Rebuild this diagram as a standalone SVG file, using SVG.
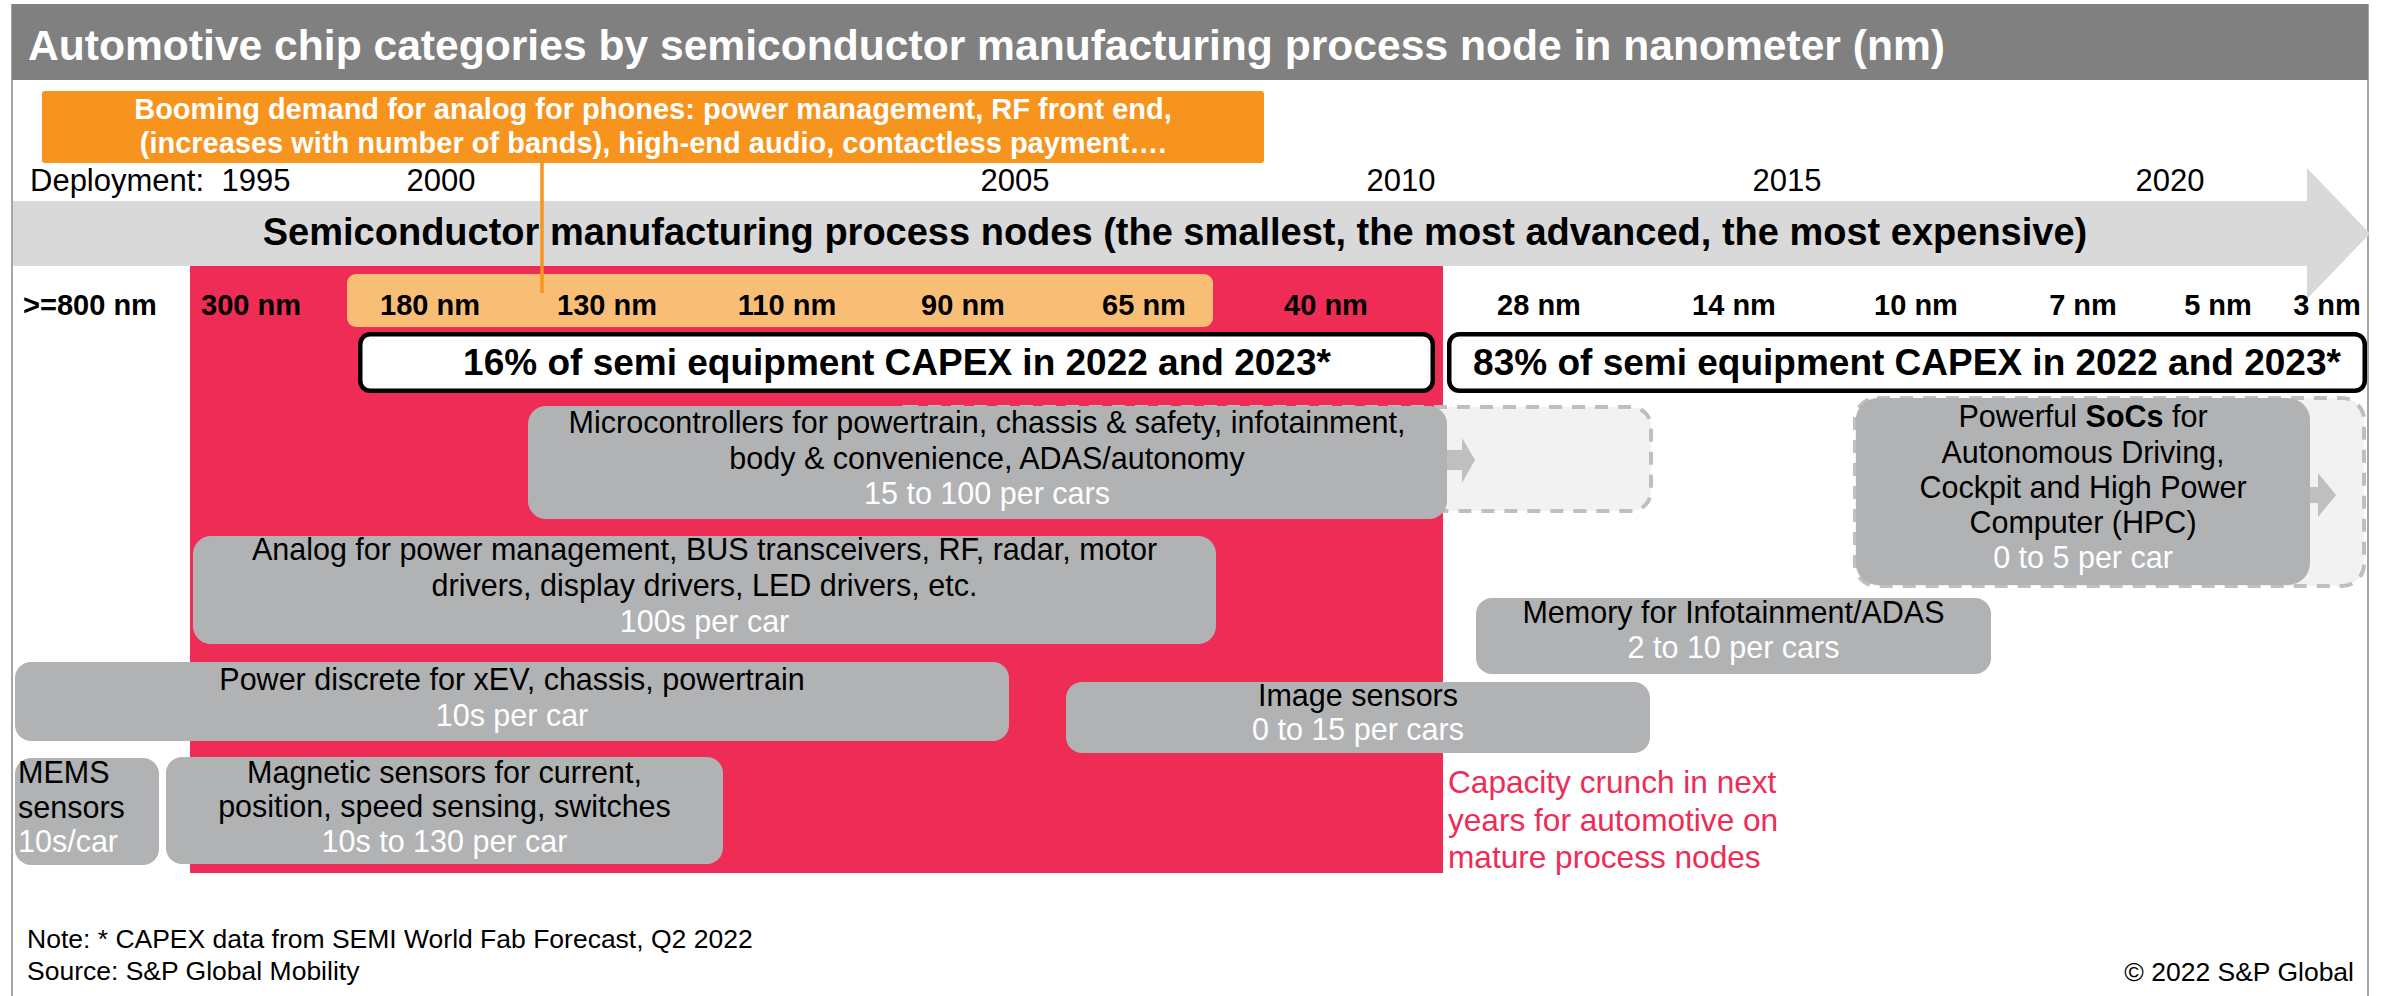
<svg xmlns="http://www.w3.org/2000/svg" width="2381" height="996" viewBox="0 0 2381 996">
<style>
text { font-family: "Liberation Sans", Arial, sans-serif; }
.title { font-size: 42.6px; font-weight: bold; fill: #ffffff; }
.orng { font-size: 29px; font-weight: bold; fill: #ffffff; text-anchor: middle; }
.yr { font-size: 31px; fill: #000000; text-anchor: middle; }
.arrowt { font-size: 38px; font-weight: bold; fill: #000000; text-anchor: middle; }
.nm { font-size: 29px; font-weight: bold; fill: #000000; text-anchor: middle; }
.capex { font-size: 37px; font-weight: bold; fill: #000000; text-anchor: middle; }
.capbox { fill: #ffffff; stroke: #000000; stroke-width: 4.5; }
.box { fill: #B1B2B4; }
.bt { font-size: 30.5px; fill: #000000; text-anchor: middle; }
.bw { font-size: 30.5px; fill: #ffffff; text-anchor: middle; }
.bl { font-size: 30.5px; fill: #000000; }
.blw { font-size: 30.5px; fill: #ffffff; }
.dash { fill: #F2F2F2; stroke: #BFBFBF; stroke-width: 4; stroke-dasharray: 13 10; }
.sarrow { fill: #BFBFBF; }
.redt { font-size: 31.6px; fill: #EE2C55; }
.note { font-size: 26.5px; fill: #000000; }
.frame { stroke: #A6A6A6; stroke-width: 2; fill: none; }
</style>
<rect x="0" y="0" width="2381" height="996" fill="#ffffff"/>
<g id="frame">
<line class="frame" x1="12" y1="4" x2="12" y2="996"/>
<line class="frame" x1="2368" y1="4" x2="2368" y2="996"/>
</g>
<g id="title">
<rect x="12" y="4" width="2356" height="76" fill="#808080"/>
<text class="title" x="28" y="60">Automotive chip categories by semiconductor manufacturing process node in nanometer (nm)</text>
</g>
<g id="timeline-arrow">
<polygon points="13,201 2307,201 2307,168 2370,233.5 2307,299 2307,266 13,266" fill="#D9D9D9"/>
<text class="arrowt" x="1175" y="245">Semiconductor manufacturing process nodes (the smallest, the most advanced, the most expensive)</text>
</g>
<g id="mature-zone">
<rect x="190" y="266" width="1253" height="607" fill="#EE2C55"/>
</g>
<g id="phone-band">
<rect x="347" y="274" width="866" height="53" rx="9" fill="#F9BE76"/>
</g>
<g id="phone-demand">
<rect x="42" y="91" width="1222" height="72" rx="3" fill="#F7941D"/>
<text class="orng" x="653" y="119">Booming demand for analog for phones: power management, RF front end,</text>
<text class="orng" x="653" y="153">(increases with number of bands), high-end audio, contactless payment….</text>
</g>
<g id="connectors">
<line x1="542" y1="163" x2="542" y2="293" stroke="#F7941D" stroke-width="3.5"/>
</g>
<g id="deployment">
<text class="yr" x="30" y="191" style="text-anchor:start">Deployment:</text>
<text class="yr" x="256" y="191">1995</text>
<text class="yr" x="441" y="191">2000</text>
<text class="yr" x="1015" y="191">2005</text>
<text class="yr" x="1401" y="191">2010</text>
<text class="yr" x="1787" y="191">2015</text>
<text class="yr" x="2170" y="191">2020</text>
</g>
<g id="nodes">
<text class="nm" x="90" y="315">&gt;=800 nm</text>
<text class="nm" x="251" y="315">300 nm</text>
<text class="nm" x="430" y="315">180 nm</text>
<text class="nm" x="607" y="315">130 nm</text>
<text class="nm" x="787" y="315">110 nm</text>
<text class="nm" x="963" y="315">90 nm</text>
<text class="nm" x="1144" y="315">65 nm</text>
<text class="nm" x="1326" y="315">40 nm</text>
<text class="nm" x="1539" y="315">28 nm</text>
<text class="nm" x="1734" y="315">14 nm</text>
<text class="nm" x="1916" y="315">10 nm</text>
<text class="nm" x="2083" y="315">7 nm</text>
<text class="nm" x="2218" y="315">5 nm</text>
<text class="nm" x="2327" y="315">3 nm</text>
</g>
<g id="capex-16">
<rect class="capbox" x="360.25" y="334.25" width="1072.5" height="56.5" rx="10"/>
<text class="capex" x="897" y="375">16% of semi equipment CAPEX in 2022 and 2023*</text>
</g>
<g id="capex-83">
<rect class="capbox" x="1449.25" y="334.25" width="915.5" height="56.5" rx="10"/>
<text class="capex" x="1907" y="375">83% of semi equipment CAPEX in 2022 and 2023*</text>
</g>
<g id="microcontrollers">
<rect class="dash" x="885" y="407" width="766" height="104" rx="20"/>
<polygon class="sarrow" points="1440,450 1462,450 1462,438 1475,460 1462,483 1462,470 1440,470"/>
<rect class="box" x="528" y="406" width="919" height="113" rx="18"/>
<text class="bt" x="987" y="433">Microcontrollers for powertrain, chassis &amp; safety, infotainment,</text>
<text class="bt" x="987" y="469">body &amp; convenience, ADAS/autonomy</text>
<text class="bw" x="987" y="504">15 to 100 per cars</text>
</g>
<g id="socs">
<rect class="dash" x="1855" y="398" width="509" height="188" rx="22"/>
<polygon class="sarrow" points="2300,487 2318,487 2318,473 2336,495 2318,517 2318,503 2300,503"/>
<rect class="box" x="1856" y="398" width="454" height="187" rx="22"/>
<text class="bt" x="2083" y="427">Powerful <tspan font-weight="bold">SoCs</tspan> for</text>
<text class="bt" x="2083" y="463">Autonomous Driving,</text>
<text class="bt" x="2083" y="498">Cockpit and High Power</text>
<text class="bt" x="2083" y="533">Computer (HPC)</text>
<text class="bw" x="2083" y="568">0 to 5 per car</text>
</g>
<g id="analog">
<rect class="box" x="193" y="536" width="1023" height="108" rx="18"/>
<text class="bt" x="704.5" y="560">Analog for power management, BUS transceivers, RF, radar, motor</text>
<text class="bt" x="704.5" y="596">drivers, display drivers, LED drivers, etc.</text>
<text class="bw" x="704.5" y="632">100s per car</text>
</g>
<g id="memory">
<rect class="box" x="1476" y="598" width="515" height="76" rx="16"/>
<text class="bt" x="1733.5" y="623">Memory for Infotainment/ADAS</text>
<text class="bw" x="1733.5" y="658">2 to 10 per cars</text>
</g>
<g id="power-discrete">
<rect class="box" x="15" y="662" width="994" height="79" rx="16"/>
<text class="bt" x="512" y="690">Power discrete for xEV, chassis, powertrain</text>
<text class="bw" x="512" y="726">10s per car</text>
</g>
<g id="image-sensors">
<rect class="box" x="1066" y="682" width="584" height="71" rx="16"/>
<text class="bt" x="1358" y="706">Image sensors</text>
<text class="bw" x="1358" y="740">0 to 15 per cars</text>
</g>
<g id="mems">
<rect class="box" x="15" y="758" width="144" height="107" rx="16"/>
<text class="bl" x="18" y="783">MEMS</text>
<text class="bl" x="18" y="818">sensors</text>
<text class="blw" x="18" y="852">10s/car</text>
</g>
<g id="magnetic">
<rect class="box" x="166" y="757" width="557" height="107" rx="16"/>
<text class="bt" x="444.5" y="783">Magnetic sensors for current,</text>
<text class="bt" x="444.5" y="817">position, speed sensing, switches</text>
<text class="bw" x="444.5" y="852">10s to 130 per car</text>
</g>
<g id="capacity-note">
<text class="redt" x="1448" y="793">Capacity crunch in next</text>
<text class="redt" x="1448" y="831">years for automotive on</text>
<text class="redt" x="1448" y="868">mature process nodes</text>
</g>
<g id="footer">
<text class="note" x="27" y="948">Note: * CAPEX data from SEMI World Fab Forecast, Q2 2022</text>
<text class="note" x="27" y="980">Source: S&amp;P Global Mobility</text>
<text class="note" x="2354" y="981" text-anchor="end">© 2022 S&amp;P Global</text>
</g>
</svg>
